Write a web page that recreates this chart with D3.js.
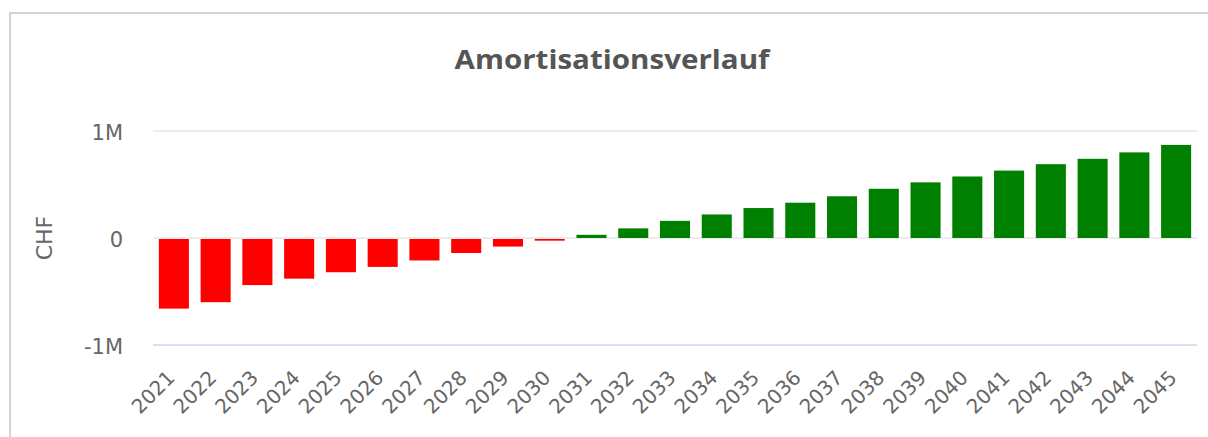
<!DOCTYPE html>
<html>
<head>
<meta charset="utf-8">
<script src="https://cdn.jsdelivr.net/npm/d3@7"></script>
<style>
  html, body { margin: 0; padding: 0; background: #fff; }
  svg { display: block; }
</style>
</head>
<body>
<div id="chart"></div>
<script>
// Amortisationsverlauf - bar chart, negative red / positive green

const years = ['2021', '2022', '2023', '2024', '2025', '2026', '2027', '2028', '2029', '2030',
    '2031', '2032', '2033', '2034', '2035', '2036', '2037', '2038', '2039', '2040',
    '2041', '2042', '2043', '2044', '2045'];

// CHF
const values = [-660000, -600000, -440000, -380000, -320000, -270000, -210000, -140000, -80000, -25000,
    30000, 90000, 160000, 220000, 280000, 330000, 390000, 460000, 520000, 575000,
    630000, 690000, 740000, 800000, 870000];

const yTicks = [-1000000, 0, 1000000];
const yTickLabels = ['-1M', '0', '1M'];

const width = 1208;
const height = 437;
const plot = { left: 153, right: 1197, top: 131, bottom: 345 };

const svg = d3.select('#chart')
    .append('svg')
    .attr('width', width)
    .attr('height', height);

// outer frame
svg.append('path')
    .attr('d', `M10,${height} L10,13 L${width},13`)
    .attr('fill', 'none')
    .attr('stroke', '#d4d4d4')
    .attr('stroke-width', 2);

// title
svg.append('text')
    .attr('x', 612)
    .attr('y', 69)
    .attr('text-anchor', 'middle')
    .attr('font-family', '"Open Sans", Lato, sans-serif')
    .attr('font-weight', 'bold')
    .attr('font-size', 27)
    .attr('fill', '#555555')
    .attr('textLength', 315)
    .attr('lengthAdjust', 'spacingAndGlyphs')
    .text('Amortisationsverlauf');

const x = d3.scaleBand()
    .domain(years)
    .range([plot.left, plot.right])
    .paddingInner(0.28)
    .paddingOuter(0.14);

const y = d3.scaleLinear()
    .domain([-1000000, 1000000])
    .range([plot.bottom, plot.top]);

// gridlines
svg.append('g')
    .selectAll('line')
    .data(yTicks)
    .enter()
    .append('line')
    .attr('x1', plot.left)
    .attr('x2', plot.right)
    .attr('y1', d => y(d))
    .attr('y2', d => y(d))
    .attr('stroke', d => d === -1000000 ? '#ccd6eb' : '#e6e6e6')
    .attr('stroke-width', 1.5);

// y tick labels
svg.append('g')
    .selectAll('text')
    .data(yTicks)
    .enter()
    .append('text')
    .attr('x', 123)
    .attr('y', d => y(d))
    .attr('dy', '0.42em')
    .attr('text-anchor', 'end')
    .attr('font-family', '"DejaVu Sans", sans-serif')
    .attr('font-size', 21)
    .attr('fill', '#666666')
    .text((d, i) => yTickLabels[i]);

// y axis title
svg.append('text')
    .attr('transform', `translate(52, ${y(0)}) rotate(-90)`)
    .attr('text-anchor', 'middle')
    .attr('font-family', '"DejaVu Sans", sans-serif')
    .attr('font-size', 22)
    .attr('fill', '#666666')
    .text('CHF');

// bars
svg.append('g')
    .selectAll('rect')
    .data(values)
    .enter()
    .append('rect')
    .attr('x', (d, i) => x(years[i]))
    .attr('width', x.bandwidth())
    .attr('y', d => d < 0 ? y(0) + 1 : y(d))
    .attr('height', d => Math.abs(y(d) - y(0)) - (d < 0 ? 1 : 0))
    .attr('fill', d => d < 0 ? '#ff0000' : '#008000');

// x tick labels, rotated
svg.append('g')
    .selectAll('text')
    .data(years)
    .enter()
    .append('text')
    .attr('transform', d => `translate(${x(d) + x.bandwidth() / 2 + 2}, 379) rotate(-45)`)
    .attr('text-anchor', 'end')
    .attr('font-family', '"DejaVu Sans", sans-serif')
    .attr('font-size', 20)
    .attr('fill', '#666666')
    .text(d => d);
</script>
</body>
</html>
